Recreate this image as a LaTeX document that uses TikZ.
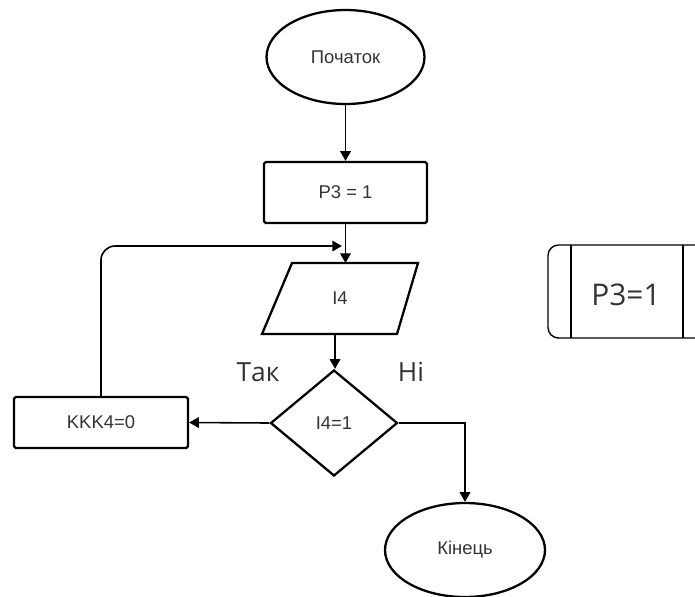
\documentclass[tikz,border=0pt]{standalone}
\usepackage{fontspec}
\setmainfont{Liberation Sans}
\newfontfamily\labelfont{Open Sans}
\usetikzlibrary{positioning, shapes.geometric, arrows.meta}
\definecolor{txtgray}{HTML}{333333}

\begin{document}
\begin{tikzpicture}[x=0.02cm, y=-0.02cm,
    every node/.style={text=txtgray, font=\fontsize{10.5}{12}\selectfont},
    blk/.style={draw=black, line width=1.3pt, inner sep=0pt},
    arr/.style={-{Triangle[width=6pt,length=5.5pt]}, line width=0.9pt}]
    \useasboundingbox (0,0) rectangle (695,596);

    \node[blk, ellipse, minimum width=3.16cm, minimum height=1.88cm] (start) at (345.5,57) {Початок};
    \node[blk, rectangle, rounded corners=1pt, minimum width=3.26cm, minimum height=1.22cm] (p3) at (345.5,192.5) {P3 = 1};
    % паралелограм вводу
    \draw[line width=1.3pt] (262,334)--(292,263)--(418,263)--(397,334)--cycle;
    \node (input) at (340,298) {I4};
    \coordinate (intop) at (345.5,263);
    \coordinate (inbot) at (335,334);
    \node[blk, diamond, minimum width=2.54cm, minimum height=2.12cm] (cond) at (334,423) {I4=1};
    \node[blk, rectangle, rounded corners=1pt, minimum width=3.48cm, minimum height=1.02cm] (kkk) at (101,422.5) {KKK4=0};
    \node[blk, ellipse, minimum width=3.2cm, minimum height=1.88cm] (finish) at (465,550) {Кінець};

    \draw[arr] (start.south) -- (p3.north);
    \draw[arr] (p3.south) -- (intop);
    \draw[arr, rounded corners=8pt] (kkk.north) |- (342,246);%петля
    \draw[arr] (inbot) -- (inbot |- cond.north);
    \draw[arr] (cond.west) -- (kkk.east);
    \draw[arr] (cond.east) -| (finish.north);

    \node[font=\labelfont\fontsize{15}{18}\selectfont] (yes) at (258,372) {Так};
    \node[font=\labelfont\fontsize{15}{18}\selectfont] (no) at (411,372) {Ні};

    % блок праворуч
    \draw[line width=0.8pt, rounded corners=6pt] (696,245) -- (548,245) -- (548,338) -- (696,338);
    \draw[line width=0.8pt] (571,245) -- (571,338) (683,245) -- (683,338);
    \node[font=\labelfont\fontsize{17}{20}\selectfont] (side) at (626,295) {P3=1};
\end{tikzpicture}
\end{document}
